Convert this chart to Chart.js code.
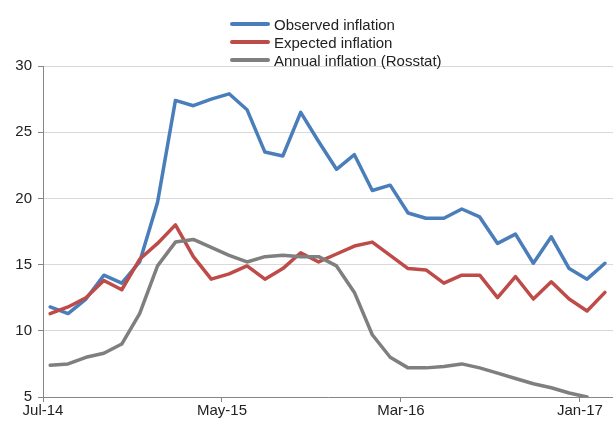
<!DOCTYPE html>
<html>
<head>
<meta charset="utf-8">
<script src="https://cdn.jsdelivr.net/npm/chart.js@4/dist/chart.umd.min.js"></script>
<style>
  body { margin: 0; background: #fff; }
  #wrap { position: relative; width: 613px; height: 423px; }
  #legend { position: absolute; left: 230px; top: 15px; font-family: "Liberation Sans", Arial, sans-serif; font-size: 15px; color: #222; }
  .row { display: flex; align-items: center; height: 18px; }
  .swatch { display: inline-block; width: 40px; height: 4px; margin-right: 4px; border-radius: 2px; }
</style>
</head>
<body>
<div id="wrap">
  <canvas id="chart" width="613" height="423"></canvas>
  <div id="legend"></div>
</div>
<script>
// monthly observations, Jul-14 .. Feb-17
const months = ['Jul-14','Aug-14','Sep-14','Oct-14','Nov-14','Dec-14',
  'Jan-15','Feb-15','Mar-15','Apr-15','May-15','Jun-15','Jul-15','Aug-15','Sep-15','Oct-15','Nov-15','Dec-15',
  'Jan-16','Feb-16','Mar-16','Apr-16','May-16','Jun-16','Jul-16','Aug-16','Sep-16','Oct-16','Nov-16','Dec-16',
  'Jan-17','Feb-17']
const tickLabels = ['Jul-14','May-15','Mar-16','Jan-17']

const observed = [11.8,11.3,12.4,14.2,13.6,15.2,19.7,27.4,27.0,27.5,27.9,26.7,23.5,23.2,26.5,24.3,
  22.2,23.3,20.6,21.0,18.9,18.5,18.5,19.2,18.6,16.6,17.3,15.1,17.1,14.7,13.9,15.1]
const expected = [11.3,11.8,12.5,13.8,13.1,15.4,16.6,18.0,15.6,13.9,14.3,14.9,13.9,14.7,15.9,15.2,
  15.8,16.4,16.7,15.7,14.7,14.6,13.6,14.2,14.2,12.5,14.1,12.4,13.7,12.4,11.5,12.9]
const annual = [7.4,7.5,8.0,8.3,9.0,11.3,14.9,16.7,16.9,16.3,15.7,15.2,15.6,15.7,15.6,15.6,
  14.9,12.9,9.7,8.0,7.2,7.2,7.3,7.5,7.2,6.8,6.4,6.0,5.7,5.3,5.0,null]

const names = ['Observed inflation','Expected inflation','Annual inflation (Rosstat)']
const colors = ['#4a7ebb','#be4b48','#7f7f7f']
const series = [observed, expected, annual]

const shift = 0.4   // ticks sit a bit left of the data points

function toPoints(arr) {
  return arr.map((v, i) => ({ x: i, y: v }))
}

const datasets = series.map((s, k) => ({
  label: names[k],
  data: toPoints(s),
  borderColor: colors[k],
  backgroundColor: colors[k],
  borderWidth: 3.5,
  pointRadius: 0,
  tension: 0,
  borderJoinStyle: 'round',
  borderCapStyle: 'round',
  spanGaps: false,
  order: series.length - k
}))

let legend = document.getElementById('legend')
names.forEach((n, k) => {
  let row = document.createElement('div')
  row.className = 'row'
  row.innerHTML = '<span class="swatch" style="background:' + colors[k] + '"></span><span>' + n + '</span>'
  legend.appendChild(row)
})

const font = { family: '"Liberation Sans", Arial, sans-serif', size: 15 }

new Chart(document.getElementById('chart').getContext('2d'), {
  type: 'line',
  data: { datasets: datasets },
  options: {
    responsive: false,
    animation: false,
    layout: { padding: { top: 66, right: 0, left: 0, bottom: 0 } },
    plugins: { legend: { display: false }, tooltip: { enabled: false } },
    scales: {
      x: {
        type: 'linear',
        min: -shift,
        max: 31.45,
        afterBuildTicks: (scale) => {
          scale.ticks = tickLabels.map(t => ({ value: months.indexOf(t) - shift }))
        },
        afterFit: (scale) => { scale.height = 26 },
        ticks: {
          autoSkip: false,
          maxRotation: 0,
          color: '#222',
          font: font,
          padding: 0,
          callback: (v) => months[Math.round(v + shift)]
        },
        grid: { drawOnChartArea: false, drawTicks: true, tickLength: 5, tickColor: '#868686' },
        border: { color: '#868686', width: 1 }
      },
      y: {
        min: 5,
        max: 30,
        afterFit: (scale) => { scale.width = 43 },
        ticks: { stepSize: 5, color: '#222', font: font, padding: 6 },
        grid: { color: '#d9d9d9', tickColor: '#868686', tickLength: 5 },
        border: { color: '#868686', width: 1 }
      }
    }
  }
})
</script>
</body>
</html>
